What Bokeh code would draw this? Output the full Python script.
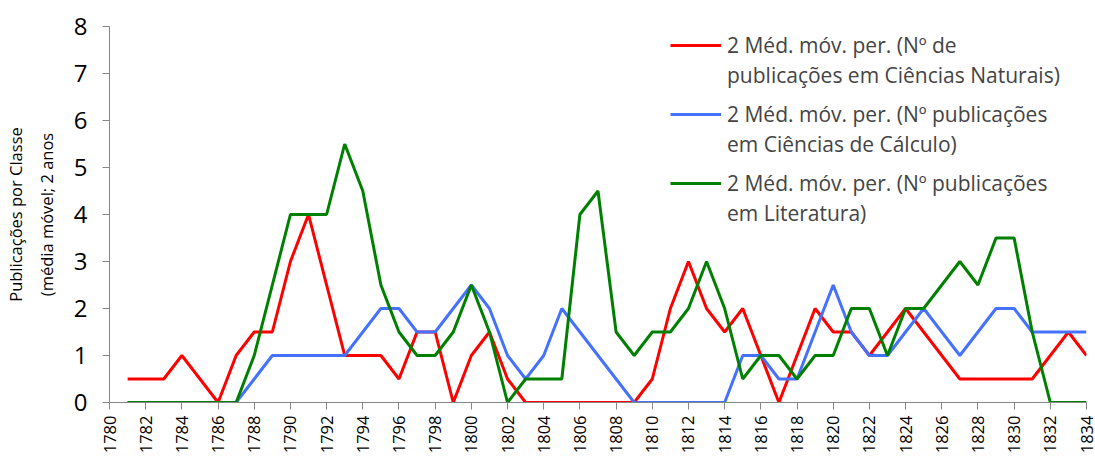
from math import pi
from bokeh.plotting import figure
from bokeh.models import Legend, LegendItem, FixedTicker, Range1d, ColumnDataSource
from bokeh.embed import file_html
from bokeh.resources import INLINE

years = list(range(1781, 1835))
naturais = [0.5, 0.5, 0.5, 1, 0.5, 0, 1, 1.5, 1.5, 3,
            4, 2.5, 1, 1, 1, 0.5, 1.5, 1.5, 0, 1,
            1.5, 0.5, 0, 0, 0, 0, 0, 0, 0, 0.5,
            2, 3, 2, 1.5, 2, 1, 0, 1, 2, 1.5,
            1.5, 1, 1.5, 2, 1.5, 1, 0.5, 0.5, 0.5, 0.5,
            0.5, 1, 1.5, 1]
calculo = [0, 0, 0, 0, 0, 0, 0, 0.5, 1, 1,
           1, 1, 1, 1.5, 2, 2, 1.5, 1.5, 2, 2.5,
           2, 1, 0.5, 1, 2, 1.5, 1, 0.5, 0, 0,
           0, 0, 0, 0, 1, 1, 0.5, 0.5, 1.5, 2.5,
           1.5, 1, 1, 1.5, 2, 1.5, 1, 1.5, 2, 2,
           1.5, 1.5, 1.5, 1.5]
literatura = [0, 0, 0, 0, 0, 0, 0, 1, 2.5, 4,
              4, 4, 5.5, 4.5, 2.5, 1.5, 1, 1, 1.5, 2.5,
              1.5, 0, 0.5, 0.5, 0.5, 4, 4.5, 1.5, 1, 1.5,
              1.5, 2, 3, 2, 0.5, 1, 1, 0.5, 1, 1,
              2, 2, 1, 2, 2, 2.5, 3, 2.5, 3.5, 3.5,
              1.5, 0, 0, 0]
x_ticks = list(range(1780, 1835, 2))
y_ticks = list(range(0, 9))
labels = [("2 Méd. móv. per. (Nº de", "publicações em Ciências Naturais)"),
          ("2 Méd. móv. per. (Nº publicações", "em Ciências de Cálculo)"),
          ("2 Méd. móv. per. (Nº publicações", "em Literatura)")]
colors = ["#FF0000", "#4472FF", "#008000"]
y_title = "Publicações por Classe\n(média móvel; 2 anos"

FONT = "Open Sans"
W, H = 1095, 456
FL, FT, FR, FB = 103, 26, 1086, 403
p = figure(width=W, height=H, output_backend="svg", toolbar_location=None,
           x_range=Range1d(1780, 1834), y_range=Range1d(0, 8),
           min_border_left=FL, min_border_right=W - FR,
           min_border_top=FT, min_border_bottom=H - FB)
p.outline_line_color = None
p.xgrid.visible = False
p.ygrid.visible = False

src = ColumnDataSource(dict(year=years, nat=naturais, cal=calculo, lit=literatura))
renderers = []
for col, c in zip(["nat", "cal", "lit"], colors):
    r = p.line("year", col, source=src, line_color=c, line_width=3)
    renderers.append(r)
# helper renderer with no stroke: gives the second label lines an empty glyph slot
blank = p.line("year", "nat", source=src, line_color=None)

for ax in (p.xaxis[0], p.yaxis[0]):
    ax.axis_line_color = "#868686"
    ax.major_tick_line_color = "#868686"
    ax.minor_tick_line_color = None
    ax.major_tick_in = 0
    ax.major_tick_out = 7
    ax.major_label_text_font = FONT
    ax.major_label_text_color = "#000000"

p.xaxis.ticker = FixedTicker(ticks=x_ticks)
p.xaxis.major_label_orientation = pi / 2
p.xaxis.major_label_text_font_size = "16.5px"
p.xaxis.major_label_text_line_height = 0.85
p.xaxis.major_label_standoff = 6

p.yaxis.ticker = FixedTicker(ticks=y_ticks)
p.yaxis.major_label_text_font_size = "24px"
p.yaxis.major_label_standoff = 15
p.yaxis.axis_label = y_title
p.yaxis.axis_label_text_font = FONT
p.yaxis.axis_label_text_font_size = "16.5px"
p.yaxis.axis_label_text_font_style = "normal"
p.yaxis.axis_label_text_color = "#000000"
p.yaxis.axis_label_text_line_height = 1.35
p.yaxis.axis_label_standoff = 13

bottoms = [312, 243, 174]
for (l1, l2), r, yb in zip(labels, renderers, bottoms):
    lg = Legend(items=[LegendItem(label=l1, renderers=[r]),
                       LegendItem(label=l2, renderers=[blank])],
                location=(561, yb), orientation="vertical",
                glyph_width=51, glyph_height=30, label_height=30,
                label_standoff=6, label_text_font=FONT,
                label_text_font_size="21px", spacing=0, padding=0, margin=0,
                border_line_color=None, background_fill_alpha=0)
    p.add_layout(lg, "center")

open("out.html", "w").write(file_html(p, INLINE))
